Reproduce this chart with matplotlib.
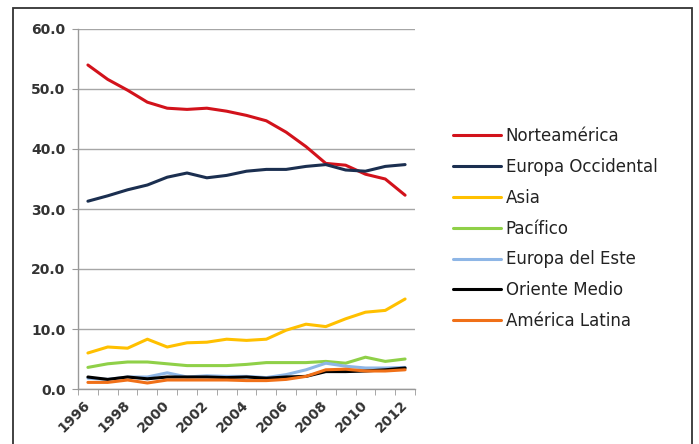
import numpy as np
import matplotlib.pyplot as plt
import matplotlib.transforms as mtransforms
from matplotlib.patches import Rectangle

plt.rcParams["font.family"] = ["DejaVu Sans"]

years = list(range(1996, 2013))
norteamerica = [54.0, 51.6, 49.8, 47.8, 46.8, 46.6, 46.8, 46.3, 45.6, 44.7, 42.8, 40.4, 37.6, 37.3, 35.8, 35.0, 32.3]
europa_occ = [31.3, 32.2, 33.2, 34.0, 35.3, 36.0, 35.2, 35.6, 36.3, 36.6, 36.6, 37.1, 37.4, 36.5, 36.3, 37.1, 37.4]
asia = [6.0, 7.0, 6.8, 8.3, 7.0, 7.7, 7.8, 8.3, 8.1, 8.3, 9.8, 10.8, 10.4, 11.7, 12.8, 13.1, 15.0]
pacifico = [3.6, 4.2, 4.5, 4.5, 4.2, 3.9, 3.9, 3.9, 4.1, 4.4, 4.4, 4.4, 4.6, 4.3, 5.3, 4.6, 5.0]
europa_este = [1.8, 1.6, 2.0, 2.0, 2.7, 2.0, 2.2, 2.1, 2.1, 1.9, 2.4, 3.2, 4.3, 3.8, 3.5, 3.5, 3.6]
oriente_medio = [2.0, 1.6, 2.0, 1.7, 2.0, 2.0, 2.0, 1.9, 2.0, 1.8, 2.0, 2.1, 2.9, 2.9, 3.0, 3.2, 3.5]
america_latina = [1.1, 1.1, 1.5, 1.0, 1.5, 1.5, 1.5, 1.5, 1.4, 1.4, 1.6, 2.1, 3.2, 3.3, 3.0, 3.0, 3.2]

series = [
    ("Norteamérica", norteamerica, "#d2121b"),
    ("Europa Occidental", europa_occ, "#1b2f50"),
    ("Asia", asia, "#ffc000"),
    ("Pacífico", pacifico, "#8fd048"),
    ("Europa del Este", europa_este, "#8eb6e6"),
    ("Oriente Medio", oriente_medio, "#000000"),
    ("América Latina", america_latina, "#f07018"),
]

fig = plt.figure(figsize=(6.99, 4.44), dpi=100)
ax = fig.add_axes([78 / 699, 55 / 444, 337 / 699, 360 / 444])

# outer frame
fig.patches.append(Rectangle((13 / 699, -0.1), 679 / 699, 1.1 - 8 / 444,
                             transform=fig.transFigure, fill=False,
                             edgecolor="#333333", linewidth=1.3))

for name, vals, color in series:
    ax.plot(years, vals, color=color, linewidth=2.2, label=name,
            solid_capstyle="round", solid_joinstyle="round")

ax.set_xlim(1995.5, 2012.5)
ax.set_ylim(0, 60)
ax.set_yticks(np.arange(0, 61, 10))
ax.set_yticklabels([f"{v:.1f}" for v in range(0, 61, 10)],
                   fontsize=10, fontweight="bold", color="#333333")
ax.yaxis.grid(True, color="#a6a6a6", linewidth=1)
ax.set_axisbelow(True)

ax.set_xticks(years[::2])
ax.set_xticklabels([str(y) for y in years[::2]], rotation=45, ha="right",
                   va="center", rotation_mode="anchor", fontsize=10,
                   fontweight="bold", color="#333333")
shift = mtransforms.ScaledTranslation(3 / 100, 0, fig.dpi_scale_trans)
for lab in ax.get_xticklabels():
    lab.set_transform(lab.get_transform() + shift)
ax.set_xticks(np.arange(1995.5, 2013, 1), minor=True)
ax.tick_params(axis="x", which="major", length=0, pad=10)
ax.tick_params(axis="x", which="minor", length=4, color="#999999")
ax.tick_params(axis="y", length=4, color="#999999", pad=5)

for s in ["top", "right"]:
    ax.spines[s].set_visible(False)
for s in ["left", "bottom"]:
    ax.spines[s].set_color("#999999")
    ax.spines[s].set_linewidth(1)

fig.legend(loc="upper left", bbox_to_anchor=(453 / 699, 1 - 127 / 444),
           frameon=False, fontsize=12, handlelength=2.9, handletextpad=0.25,
           labelspacing=0.77, borderpad=0, borderaxespad=0,
           labelcolor="#222222")

fig.savefig("out.png", dpi=100)
